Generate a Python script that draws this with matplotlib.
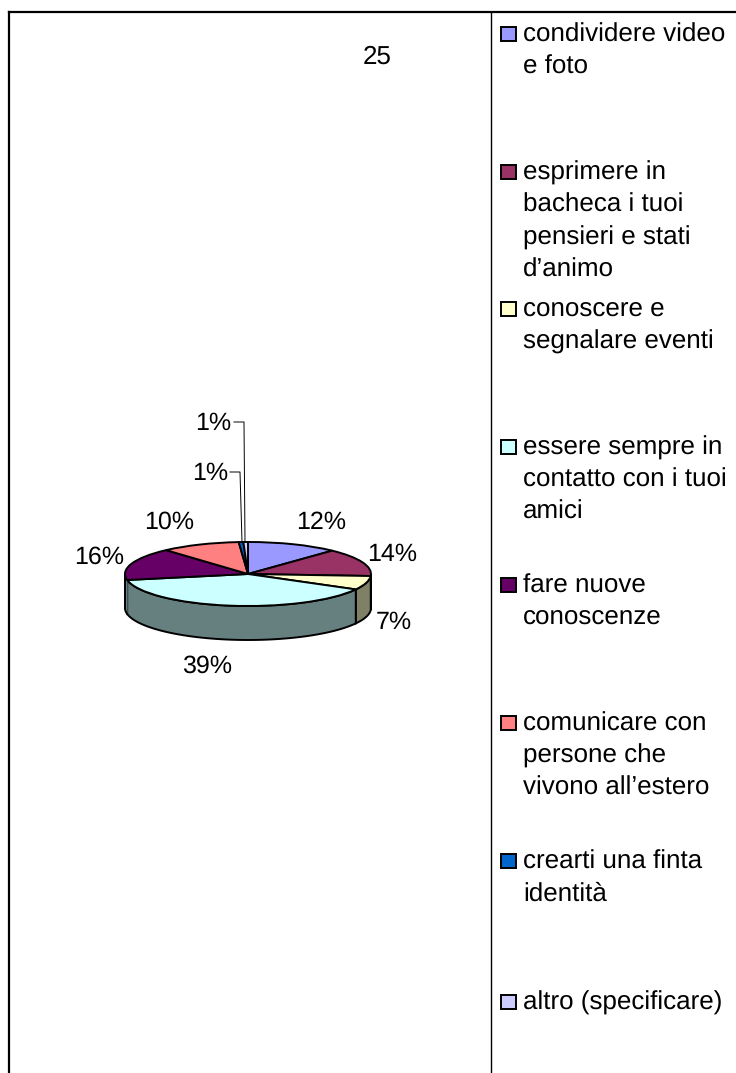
import numpy as np
import matplotlib
matplotlib.use("Agg")
import matplotlib.pyplot as plt

plt.rcParams['font.family'] = ['Liberation Sans', 'DejaVu Sans']
plt.rcParams['text.hinting'] = 'no_hinting'
plt.rcParams['text.hinting_factor'] = 1

# data
title = "25"
categories = ["condividere video\ne foto",
              "esprimere in\nbacheca i tuoi\npensieri e stati\nd\u2019animo",
              "conoscere e\nsegnalare eventi",
              "essere sempre in\ncontatto con i tuoi\namici",
              "fare nuove\nconoscenze",
              "comunicare con\npersone che\nvivono all\u2019estero",
              "crearti una finta\nidentit\u00e0",
              "altro (specificare)"]
values = [12, 14, 7, 39, 16.4, 10.4, 0.6, 0.6]
colors = ["#9999FF", "#993366", "#FFFFCC", "#CCFFFF",
          "#660066", "#FF8080", "#0066CC", "#CCCCFF"]

# layout (pixels)
W, H = 736, 1073
CX, CY, RX, RY, DEPTH = 248, 574, 123, 32, 34
legend_y = [34, 172, 309, 447, 585, 723, 861, 1002]
label_xy = [(321, 522), (392, 554), (394, 622), (207, 666),
            (99, 557), (169, 522), (210, 473), (213, 423)]
leader_pts = {6: (230, 240, 242), 7: (234, 244, 245)}

fig = plt.figure(figsize=(W / 100, H / 100), dpi=100, facecolor="white")

# overlay in pixel coordinates
ov = fig.add_axes([0, 0, 1, 1], zorder=3)
ov.set_xlim(0, W)
ov.set_ylim(H, 0)
ov.axis("off")
ov.patch.set_alpha(0)

# pie axes: data units are ellipse radii
pad_x, top_pad, bot_pad = 1.2, 1.2, 2.6
left = (CX - RX * pad_x) / W
width = 2 * RX * pad_x / W
bottom = (H - (CY + RY * bot_pad)) / H
height = RY * (bot_pad + top_pad) / H
ax = fig.add_axes([left, bottom, width, height], zorder=2)

wedges, _ = ax.pie(values, colors=colors, startangle=90, counterclock=False,
                   radius=1, wedgeprops=dict(edgecolor="black", linewidth=1.4, zorder=3))
ax.set_aspect("auto")
ax.set_xlim(-pad_x, pad_x)
ax.set_ylim(-bot_pad, top_pad)
ax.axis("off")

# side wall from the same values; a sliver at the rim takes its neighbour's colour
d = DEPTH / RY
fr = np.cumsum([0] + values) / sum(values) * 360
prev = None
for a0, a1, c in zip(fr[:-1], fr[1:], colors):
    lo, hi = max(a0, 90), min(a1, 270)
    if hi <= lo:
        continue
    t = np.radians(np.linspace(lo, hi, 60))
    x, y = np.sin(t), np.cos(t)
    face = prev if (hi - lo < 15 and a0 > 180) else c
    prev = face
    rgb = np.array(matplotlib.colors.to_rgb(face)) * 0.5
    ax.fill(np.r_[x, x[::-1]], np.r_[y, y[::-1] - d], facecolor=rgb,
            edgecolor=rgb if face != c else "black", linewidth=0.5 if face != c else 1.4, zorder=2)
    if face != c:
        ax.plot(x, y - d, color="black", lw=1.4, zorder=2.5)
        ax.plot([x[-1], x[-1]], [y[-1], y[-1] - d], color="black", lw=1.4, zorder=2.5)

# frame
ov.plot([9, 9], [H, 12], color="black", lw=1.6, solid_capstyle="projecting")
ov.plot([9, W], [12, 12], color="black", lw=1.6)
ov.plot([491, 491], [12, H], color="black", lw=1.0)

ov.text(377, 57, title, fontsize=18.6, ha="center", va="center", color="black")

# pie labels
for i, ((x, y), v) in enumerate(zip(label_xy, values)):
    ov.text(x, y, f"{v:.0f}%", fontsize=18, ha="center", va="center", color="black")
for i, (x0, x1, x2) in leader_pts.items():
    y = label_xy[i][1] - 1
    ov.plot([x0, x1, x2], [y, y, CY - RY], color="black", lw=0.7)

# legend
for y, name, c in zip(legend_y, categories, colors):
    ov.add_patch(plt.Rectangle((501, y - 7), 15, 14, facecolor=c,
                               edgecolor="black", linewidth=1.4))
    ov.text(523, y - 11, name, fontsize=18.6, ha="left", va="top",
            linespacing=1.42, color="black")

fig.savefig("out.png", dpi=100, facecolor="white")
